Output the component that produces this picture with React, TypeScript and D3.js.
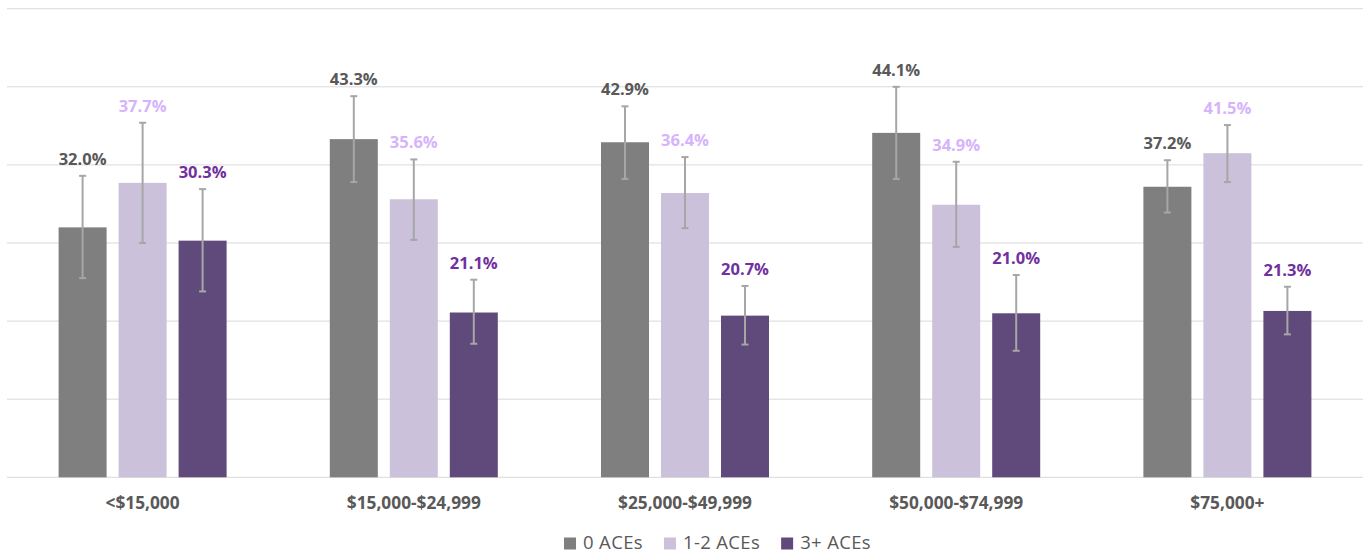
import React, { useEffect, useRef } from "react";
import * as d3 from "d3";

const categories = ["<$15,000", "$15,000-$24,999", "$25,000-$49,999", "$50,000-$74,999", "$75,000+"];
const seriesNames = ["0 ACEs", "1-2 ACEs", "3+ ACEs"];
const values0 = [32.0, 43.3, 42.9, 44.1, 37.2];
const values1 = [37.7, 35.6, 36.4, 34.9, 41.5];
const values2 = [30.3, 21.1, 20.7, 21.0, 21.3];
const low0 = [25.5, 37.8, 38.2, 38.2, 33.9];
const high0 = [38.6, 48.8, 47.5, 50.0, 40.6];
const low1 = [30.0, 30.4, 31.9, 29.5, 37.8];
const high1 = [45.4, 40.7, 41.0, 40.4, 45.1];
const low2 = [23.8, 17.1, 17.0, 16.2, 18.3];
const high2 = [36.9, 25.3, 24.5, 25.9, 24.4];
const yTicks = [0, 10, 20, 30, 40, 50, 60];

const barColors = ["#7f7f7f", "#ccc1da", "#604a7b"];
const labelColors = ["#595959", "#d6b4fb", "#7030a0"];

const W = 1363;
const H = 555;
const FONT = "'Open Sans', sans-serif";

export default function App() {
  const ref = useRef<SVGSVGElement>(null);

  useEffect(() => {
    const svg = d3.select(ref.current);
    svg.selectAll("*").remove();

    const values = [values0, values1, values2];
    const lows = [low0, low1, low2];
    const highs = [high0, high1, high2];

    const y = d3.scaleLinear().domain([0, 60]).range([477.3, 8.7]);
    const x0 = d3
      .scaleBand<string>()
      .domain(categories)
      .range([7, 1363])
      .paddingInner(0.3805)
      .paddingOuter(0.19025);
    const x1 = d3
      .scaleBand<string>()
      .domain(seriesNames)
      .range([0, x0.bandwidth()])
      .paddingInner(0.2);

    // gridlines
    svg
      .append("g")
      .selectAll("line")
      .data(yTicks)
      .join("line")
      .attr("x1", 7)
      .attr("x2", 1363)
      .attr("y1", (d) => y(d))
      .attr("y2", (d) => y(d))
      .attr("stroke", "#d9d9d9")
      .attr("stroke-width", 1);

    const rows = categories.flatMap((c, ci) =>
      seriesNames.map((s, si) => ({
        c,
        s,
        si,
        v: values[si][ci],
        lo: lows[si][ci],
        hi: highs[si][ci],
      }))
    );

    const g = svg.append("g");
    // bars
    g.selectAll("rect.bar")
      .data(rows)
      .join("rect")
      .attr("class", "bar")
      .attr("x", (d) => (x0(d.c) as number) + (x1(d.s) as number))
      .attr("width", x1.bandwidth())
      .attr("y", (d) => y(d.v))
      .attr("height", (d) => y(0) - y(d.v))
      .attr("fill", (d) => barColors[d.si]);

    const cx = (d: any) => (x0(d.c) as number) + (x1(d.s) as number) + x1.bandwidth() / 2;

    // error bars
    const eb = g.selectAll("g.eb").data(rows).join("g").attr("class", "eb");
    eb.append("line")
      .attr("x1", cx)
      .attr("x2", cx)
      .attr("y1", (d) => y(d.lo))
      .attr("y2", (d) => y(d.hi))
      .attr("stroke", "#a6a6a6")
      .attr("stroke-width", 2);
    eb.append("line")
      .attr("x1", (d) => cx(d) - 3.5)
      .attr("x2", (d) => cx(d) + 3.5)
      .attr("y1", (d) => y(d.lo))
      .attr("y2", (d) => y(d.lo))
      .attr("stroke", "#a6a6a6")
      .attr("stroke-width", 2);
    eb.append("line")
      .attr("x1", (d) => cx(d) - 3.5)
      .attr("x2", (d) => cx(d) + 3.5)
      .attr("y1", (d) => y(d.hi))
      .attr("y2", (d) => y(d.hi))
      .attr("stroke", "#a6a6a6")
      .attr("stroke-width", 2);

    // value labels
    g.selectAll("text.val")
      .data(rows)
      .join("text")
      .attr("class", "val")
      .attr("x", cx)
      .attr("y", (d) => y(d.hi) - 17)
      .attr("dy", "0.36em")
      .attr("text-anchor", "middle")
      .attr("font-family", FONT)
      .attr("font-weight", 700)
      .attr("font-size", 16.5)
      .attr("fill", (d) => labelColors[d.si])
      .text((d) => d.v.toFixed(1) + "%");

    // category labels
    svg
      .append("g")
      .selectAll("text")
      .data(categories)
      .join("text")
      .attr("x", (d) => (x0(d) as number) + x0.bandwidth() / 2)
      .attr("y", 502.3)
      .attr("dy", "0.36em")
      .attr("text-anchor", "middle")
      .attr("font-family", FONT)
      .attr("font-weight", 700)
      .attr("font-size", 17.3)
      .attr("fill", "#595959")
      .text((d) => d);

    // legend
    const lg = svg.append("g");
    const items = lg
      .selectAll("g")
      .data(seriesNames)
      .join("g");
    items
      .append("text")
      .attr("x", 19)
      .attr("y", 549.3)
      .attr("font-family", FONT)
      .attr("font-size", 18.5)
      .attr("letter-spacing", 0.35)
      .attr("fill", "#595959")
      .text((d) => d);
    items
      .append("rect")
      .attr("x", 0)
      .attr("y", 537.5)
      .attr("width", 12)
      .attr("height", 12)
      .attr("fill", (_d, i) => barColors[i]);
    let offset = 0;
    const widths: number[] = [];
    items.each(function () {
      const t = d3.select(this).select("text").node() as SVGTextElement;
      widths.push(19 + t.getComputedTextLength());
    });
    const gap = 21;
    const total = d3.sum(widths) + gap * (widths.length - 1);
    const start = 717.5 - total / 2;
    items.attr("transform", (_d, i) => {
      const tx = start + offset;
      offset += widths[i] + gap;
      return `translate(${tx},0)`;
    });
  }, []);

  return (
    <svg
      ref={ref}
      width={W}
      height={H}
      style={{ position: "absolute", left: 0, top: 0, background: "#fff" }}
    />
  );
}
